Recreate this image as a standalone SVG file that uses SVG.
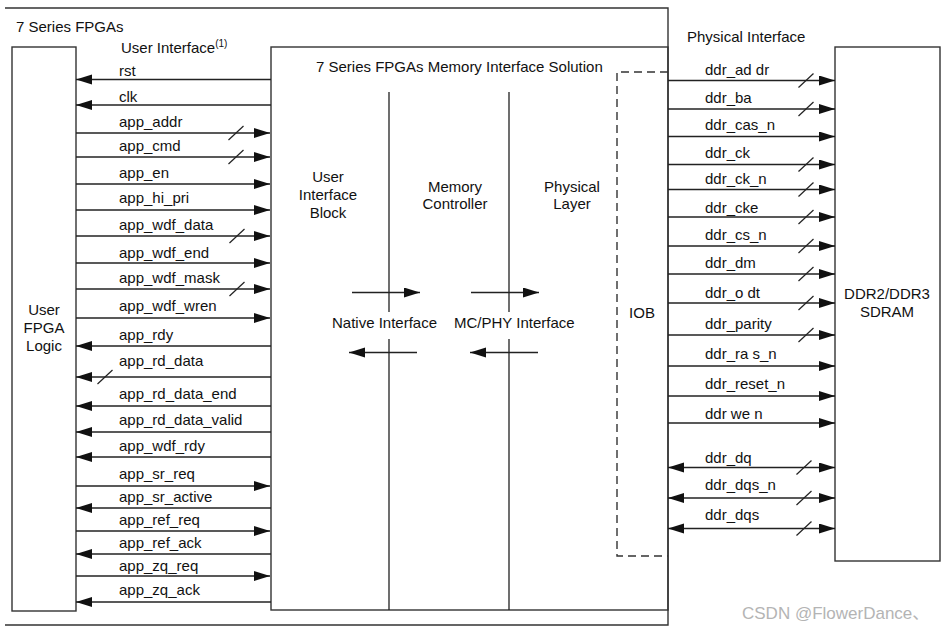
<svg xmlns="http://www.w3.org/2000/svg" xmlns:xlink="http://www.w3.org/1999/xlink" width="946" height="632" viewBox="0 0 946 632">
<defs>
<style>
text{font-family:"Liberation Sans",Arial,sans-serif;font-size:15px;fill:#111}
.c{text-anchor:middle}
.box{fill:none;stroke:#333;stroke-width:1.4}
.ln{stroke:#222;stroke-width:1.3;fill:none}
.ar{marker-end:url(#ah)}
.bi{marker-end:url(#ah);marker-start:url(#ah)}
.sl{stroke:#222;stroke-width:1.2}
.dash{fill:none;stroke:#333;stroke-width:1.4;stroke-dasharray:8 5}
.wm{font-family:"Liberation Sans","Noto Sans CJK SC",sans-serif;font-size:17px;fill:#b4b4b4}
</style>
<marker id="ah" markerUnits="userSpaceOnUse" markerWidth="17" markerHeight="11" refX="16" refY="5" orient="auto-start-reverse" viewBox="0 0 17 11">
<path d="M0,0 L16,5 L0,10 z" fill="#111"/>
</marker>
<path id="sl" class="sl" d="M-7.5,7 L7.5,-7"/>
</defs>

<g id="frame">
<path class="box" d="M5,8 H668 V625 H5"/>
<text x="16" y="32">7 Series FPGAs</text>
</g>

<g id="user_logic">
<rect class="box" x="12" y="47" width="64" height="564"/>
<text class="c" x="44" y="315">User</text>
<text class="c" x="44" y="333">FPGA</text>
<text class="c" x="44" y="351">Logic</text>
</g>

<g id="mis">
<rect class="box" x="271" y="47" width="397" height="563"/>
<text x="316" y="72">7 Series FPGAs Memory Interface Solution</text>
<path class="ln" d="M389,92 V312 M389,339 V610 M509,92 V312 M509,339 V610"/>
<text class="c" x="328" y="182">User</text>
<text class="c" x="328" y="200">Interface</text>
<text class="c" x="328" y="218">Block</text>
<text class="c" x="455" y="192">Memory</text>
<text class="c" x="455" y="209">Controller</text>
<text class="c" x="572" y="192">Physical</text>
<text class="c" x="572" y="209">Layer</text>
<text x="332" y="328">Native Interface</text>
<text x="454" y="328">MC/PHY Interface</text>
</g>

<g id="iob">
<path class="dash" d="M668,72 H617 V556 H668"/>
<text class="c" x="642" y="318">IOB</text>
</g>

<g id="sdram">
<rect class="box" x="835" y="47" width="105" height="514"/>
<text class="c" x="887" y="299">DDR2/DDR3</text>
<text class="c" x="887" y="317">SDRAM</text>
</g>

<g id="labels">
<text x="121" y="53">User Interface<tspan font-size="10" dy="-6">(1)</tspan></text>
<text x="687" y="42">Physical Interface</text>
<text x="119" y="76">rst</text>
<text x="119" y="102">clk</text>
<text x="119" y="127">app_addr</text>
<text x="119" y="151">app_cmd</text>
<text x="119" y="178">app_en</text>
<text x="119" y="203">app_hi_pri</text>
<text x="119" y="230">app_wdf_data</text>
<text x="119" y="258">app_wdf_end</text>
<text x="119" y="283">app_wdf_mask</text>
<text x="119" y="311">app_wdf_wren</text>
<text x="119" y="340">app_rdy</text>
<text x="119" y="366">app_rd_data</text>
<text x="119" y="399">app_rd_data_end</text>
<text x="119" y="425">app_rd_data_valid</text>
<text x="119" y="451">app_wdf_rdy</text>
<text x="119" y="479">app_sr_req</text>
<text x="119" y="502">app_sr_active</text>
<text x="119" y="525">app_ref_req</text>
<text x="119" y="548">app_ref_ack</text>
<text x="119" y="571">app_zq_req</text>
<text x="119" y="595">app_zq_ack</text>
<text x="705" y="75">ddr_ad dr</text>
<text x="705" y="103">ddr_ba</text>
<text x="705" y="130">ddr_cas_n</text>
<text x="705" y="158">ddr_ck</text>
<text x="705" y="184">ddr_ck_n</text>
<text x="705" y="213">ddr_cke</text>
<text x="705" y="240">ddr_cs_n</text>
<text x="705" y="268">ddr_dm</text>
<text x="705" y="298">ddr_o dt</text>
<text x="705" y="329">ddr_parity</text>
<text x="705" y="359">ddr_ra s_n</text>
<text x="705" y="389">ddr_reset_n</text>
<text x="705" y="419">ddr we n</text>
<text x="705" y="463">ddr_dq</text>
<text x="705" y="490">ddr_dqs_n</text>
<text x="705" y="520">ddr_dqs</text>
<text class="wm" x="742" y="619">CSDN @FlowerDance、</text>
</g>

<g id="connectors">
<line class="ln ar" x1="271" y1="79.5" x2="76" y2="79.5"/>
<line class="ln ar" x1="271" y1="105" x2="76" y2="105"/>
<line class="ln ar" x1="76" y1="133" x2="270" y2="133"/>
<line class="ln ar" x1="76" y1="157" x2="270" y2="157"/>
<line class="ln ar" x1="76" y1="184" x2="270" y2="184"/>
<line class="ln ar" x1="76" y1="210" x2="270" y2="210"/>
<line class="ln ar" x1="76" y1="236" x2="270" y2="236"/>
<line class="ln ar" x1="76" y1="263" x2="270" y2="263"/>
<line class="ln ar" x1="76" y1="289" x2="270" y2="289"/>
<line class="ln ar" x1="76" y1="318" x2="270" y2="318"/>
<line class="ln ar" x1="271" y1="346" x2="76" y2="346"/>
<line class="ln ar" x1="271" y1="377" x2="76" y2="377"/>
<line class="ln ar" x1="271" y1="406" x2="76" y2="406"/>
<line class="ln ar" x1="271" y1="432" x2="76" y2="432"/>
<line class="ln ar" x1="271" y1="457" x2="76" y2="457"/>
<line class="ln ar" x1="76" y1="486" x2="270" y2="486"/>
<line class="ln ar" x1="271" y1="508" x2="76" y2="508"/>
<line class="ln ar" x1="76" y1="531" x2="270" y2="531"/>
<line class="ln ar" x1="271" y1="554" x2="76" y2="554"/>
<line class="ln ar" x1="76" y1="576" x2="270" y2="576"/>
<line class="ln ar" x1="271" y1="602" x2="76" y2="602"/>
<use xlink:href="#sl" x="236" y="133"/>
<use xlink:href="#sl" x="236" y="157"/>
<use xlink:href="#sl" x="237" y="236"/>
<use xlink:href="#sl" x="237" y="289"/>
<use xlink:href="#sl" x="105" y="377"/>

<line class="ln ar" x1="352" y1="292.5" x2="420" y2="292.5"/>
<line class="ln ar" x1="471" y1="292.5" x2="539" y2="292.5"/>
<line class="ln ar" x1="417" y1="352.5" x2="349" y2="352.5"/>
<line class="ln ar" x1="538" y1="352.5" x2="470" y2="352.5"/>

<line class="ln ar" x1="668" y1="80.5" x2="835" y2="80.5"/>
<line class="ln ar" x1="668" y1="109" x2="835" y2="109"/>
<line class="ln ar" x1="668" y1="136.5" x2="835" y2="136.5"/>
<line class="ln ar" x1="668" y1="164.5" x2="835" y2="164.5"/>
<line class="ln ar" x1="668" y1="189.5" x2="835" y2="189.5"/>
<line class="ln ar" x1="668" y1="217" x2="835" y2="217"/>
<line class="ln ar" x1="668" y1="246" x2="835" y2="246"/>
<line class="ln ar" x1="668" y1="274" x2="835" y2="274"/>
<line class="ln ar" x1="668" y1="303" x2="835" y2="303"/>
<line class="ln ar" x1="668" y1="335" x2="835" y2="335"/>
<line class="ln ar" x1="668" y1="366" x2="835" y2="366"/>
<line class="ln ar" x1="668" y1="396" x2="835" y2="396"/>
<line class="ln ar" x1="668" y1="423" x2="835" y2="423"/>
<line class="ln bi" x1="668" y1="467.5" x2="835" y2="467.5"/>
<line class="ln bi" x1="668" y1="498" x2="835" y2="498"/>
<line class="ln bi" x1="668" y1="528.5" x2="835" y2="528.5"/>
<use xlink:href="#sl" x="806" y="80.5"/>
<use xlink:href="#sl" x="806" y="109"/>
<use xlink:href="#sl" x="806" y="164.5"/>
<use xlink:href="#sl" x="806" y="189.5"/>
<use xlink:href="#sl" x="806" y="217"/>
<use xlink:href="#sl" x="806" y="246"/>
<use xlink:href="#sl" x="806" y="274"/>
<use xlink:href="#sl" x="806" y="303"/>
<use xlink:href="#sl" x="806" y="335"/>
<use xlink:href="#sl" x="804" y="467.5"/>
<use xlink:href="#sl" x="804" y="498"/>
<use xlink:href="#sl" x="804" y="528.5"/>
</g>
</svg>
